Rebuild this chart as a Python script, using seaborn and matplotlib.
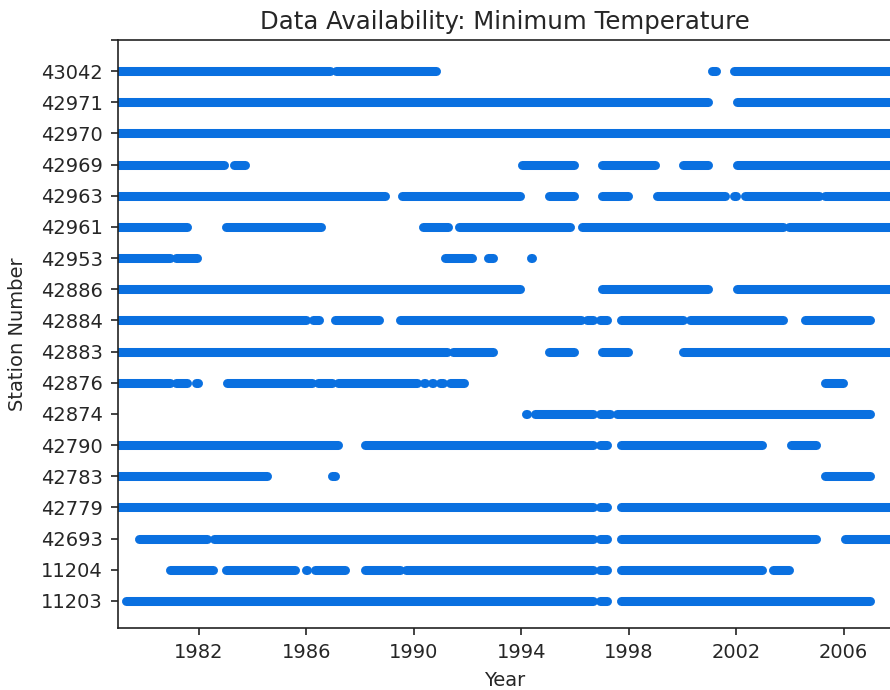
import matplotlib

matplotlib.use("Agg")

import matplotlib.pyplot as plt
import pandas as pd
import seaborn as sns

# station order, bottom to top
STATIONS = [
    "11203", "11204", "42693", "42779", "42783", "42790", "42874", "42876", "42883",
    "42884", "42886", "42953", "42961", "42963", "42969", "42970", "42971", "43042",
]

END = 2008.3  # runs on past the right edge of the axes

# available periods (start year, end year) per station
S11203 = [(1979.28, 1996.68), (1996.92, 1997.2), (1997.72, 2006.98)]
S11204 = [(1980.94, 1982.53), (1983.01, 1985.59), (1985.98, 1986.04), (1986.33, 1987.43),
          (1988.2, 1989.48), (1989.72, 1996.68), (1996.92, 1997.2), (1997.72, 2002.95),
          (2003.38, 2003.96)]
S42693 = [(1979.78, 1982.33), (1982.57, 1996.68), (1996.92, 1997.2), (1997.72, 2004.96),
          (2006.04, END)]
S42779 = [(1979.0, 1996.68), (1996.92, 1997.2), (1997.72, END)]
S42783 = [(1979.0, 1984.54), (1986.96, 1987.06), (2005.3, 2006.97)]
S42790 = [(1979.0, 1987.18), (1988.2, 1996.68), (1996.92, 1997.2), (1997.72, 2002.95),
          (2004.06, 2004.96)]
S42874 = [(1994.19, 1994.2), (1994.5, 1996.68), (1996.92, 1997.3), (1997.55, 2006.98)]
S42876 = [(1979.0, 1980.92), (1981.16, 1981.56), (1981.92, 1981.97), (1983.05, 1986.22),
          (1986.45, 1986.95), (1987.2, 1990.12), (1990.38, 1990.42), (1990.68, 1990.72),
          (1990.98, 1991.08), (1991.35, 1991.86), (2005.3, 2005.98)]
S42883 = [(1979.0, 1991.23), (1991.47, 1992.94), (1995.02, 1995.96), (1997.02, 1997.97),
          (2000.02, END)]
S42884 = [(1979.0, 1986.0), (1986.26, 1986.49), (1987.07, 1988.7), (1989.49, 1996.22),
          (1996.46, 1996.68), (1996.92, 1997.2), (1997.72, 2000.04), (2000.28, 2003.76),
          (2004.55, 2006.98)]
S42886 = [(1979.0, 1993.97), (1997.02, 2000.97), (2002.03, END)]
S42953 = [(1979.0, 1980.92), (1981.16, 1981.93), (1991.17, 1992.17), (1992.78, 1992.94),
          (1994.35, 1994.41)]
S42961 = [(1979.0, 1981.56), (1983.01, 1986.55), (1990.36, 1991.27), (1991.7, 1995.8),
          (1996.26, 2003.73), (2003.97, END)]
S42963 = [(1979.0, 1988.95), (1989.57, 1993.95), (1995.02, 1995.96), (1997.02, 1997.97),
          (1999.05, 2001.58), (2001.93, 2001.99), (2002.34, 2005.08), (2005.32, END)]
S42969 = [(1979.0, 1982.96), (1983.3, 1983.73), (1994.04, 1995.96), (1997.02, 1998.97),
          (2000.02, 2000.97), (2002.03, END)]
S42970 = [(1979.0, END)]
S42971 = [(1979.0, 2000.97), (2002.03, END)]
S43042 = [(1979.0, 1986.88), (1987.12, 1990.83), (2001.12, 2001.24), (2001.92, END)]

PERIODS = [
    S11203, S11204, S42693, S42779, S42783, S42790, S42874, S42876, S42883,
    S42884, S42886, S42953, S42961, S42963, S42969, S42970, S42971, S43042,
]

YEAR_TICKS = [1982, 1986, 1990, 1994, 1998, 2002, 2006]
BLUE = "#0a70e0"


def build_frame() -> pd.DataFrame:
    rows = []
    seg = 0
    for pos, (station, periods) in enumerate(zip(STATIONS, PERIODS)):
        for start, end in periods:
            rows.append({"station": station, "pos": pos, "seg": seg, "year": start})
            rows.append({"station": station, "pos": pos, "seg": seg, "year": end})
            seg += 1
    return pd.DataFrame(rows)


def main() -> None:
    df = build_frame()

    sns.set_style("ticks")
    plt.rcParams["font.family"] = ["DejaVu Sans"]

    fig = plt.figure(figsize=(8.9, 6.9), dpi=100)
    ax = fig.add_axes([118 / 890, 62 / 690, (892 - 118) / 890, (628 - 40) / 690])

    sns.lineplot(
        data=df,
        x="year",
        y="pos",
        units="seg",
        estimator=None,
        sort=False,
        color=BLUE,
        linewidth=6.5,
        solid_capstyle="round",
        legend=False,
        ax=ax,
    )

    ax.set_xlim(1979.0, 2007.8)
    ax.set_ylim(-0.87, 18)
    ax.set_xticks(YEAR_TICKS)
    ax.set_xticklabels([str(y) for y in YEAR_TICKS])
    ax.set_yticks(range(len(STATIONS) + 1))
    ax.set_yticklabels(STATIONS + [""])

    for side in ["top", "right", "left", "bottom"]:
        ax.spines[side].set_visible(True)
        ax.spines[side].set_linewidth(1.2)
        ax.spines[side].set_color("#222222")
    ax.tick_params(axis="both", labelsize=14, length=5, width=1.2, color="#222222", pad=6)

    ax.set_title("Data Availability: Minimum Temperature", fontsize=17.6, pad=8)
    ax.set_xlabel("Year", fontsize=14, labelpad=6)
    ax.set_ylabel("Station Number", fontsize=14, labelpad=10)

    fig.savefig("out.png", dpi=100)
    plt.close(fig)


if __name__ == "__main__":
    main()
